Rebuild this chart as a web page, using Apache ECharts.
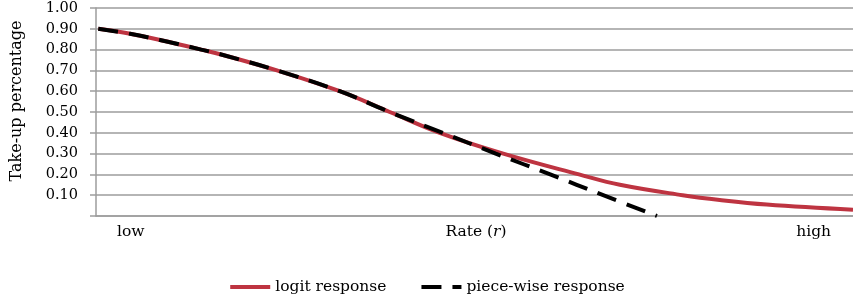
<!DOCTYPE html>
<html>
<head>
<meta charset="utf-8">
<script src="https://cdn.jsdelivr.net/npm/echarts@6/dist/echarts.min.js"></script>
<style>
  html, body { margin: 0; padding: 0; background: #fff; }
  #chart { width: 853px; height: 303px; }
</style>
</head>
<body>
<div id="chart"></div>
<script>
// rate runs 0 (low) .. 100 (high)
var logitRate = [0.3, 4.5, 8.6, 13.9, 16.9, 23.9, 32.2, 38.8, 45.4, 53.8, 63.8, 69.2, 77.5, 82.4, 88.6, 100]
var logitTake = [0.90, 0.876, 0.845, 0.80, 0.773, 0.70, 0.60, 0.50, 0.40, 0.30, 0.20, 0.15, 0.10, 0.077, 0.055, 0.03]

var pieceRate = [0.3, 4.5, 8.6, 13.9, 16.9, 23.9, 32.2, 38.8, 45.8, 52.8, 60.0, 67.0, 74.1]
var pieceTake = [0.90, 0.876, 0.845, 0.80, 0.773, 0.70, 0.60, 0.50, 0.40, 0.30, 0.20, 0.10, 0.0]

var xLabels = ['low', 'Rate (r)', 'high']
var xLabelAt = [4.6, 50.2, 94.8]

var seriesNames = ['logit response', 'piece-wise response']

function pairs(xs, ys) {
  return xs.map(function (x, i) { return [x, ys[i]] })
}

var font = 'DejaVu Serif'
var gray = '#9d9d9d'

var chart = echarts.init(document.getElementById('chart'))
chart.setOption({
  animation: false,
  textStyle: { fontFamily: font },
  grid: { left: 96, right: 0, top: 8, bottom: 87, containLabel: false },
  legend: {
    top: 274,
    left: 'center',
    itemWidth: 40,
    itemHeight: 12,
    itemGap: 33,
    itemStyle: { opacity: 0 },
    lineStyle: { width: 4 },
    textStyle: { fontFamily: font, fontSize: 15.5, color: '#000' },
    data: seriesNames
  },
  xAxis: {
    type: 'value',
    min: 0,
    max: 100,
    axisLine: { show: true, lineStyle: { color: gray, width: 1.5 } },
    axisTick: { show: false },
    splitLine: { show: false },
    axisLabel: {
      customValues: xLabelAt,
      margin: 8,
      fontFamily: font,
      fontSize: 15.5,
      color: '#000',
      formatter: function (v) {
        var i = xLabelAt.indexOf(v)
        if (i === 1) return '{n|Rate (}{i|r}{n|)}'
        return i >= 0 ? xLabels[i] : ''
      },
      rich: {
        n: { fontFamily: font, fontSize: 15.5, color: '#000' },
        i: { fontFamily: font, fontSize: 15.5, color: '#000', fontStyle: 'italic' }
      }
    }
  },
  yAxis: {
    type: 'value',
    min: 0,
    max: 1,
    interval: 0.1,
    name: 'Take-up percentage',
    nameLocation: 'middle',
    nameGap: 71,
    nameTextStyle: { fontFamily: font, fontSize: 16, color: '#000', padding: [0, 0, 0, 22] },
    axisLine: { show: true, lineStyle: { color: gray, width: 1.5 } },
    axisTick: { show: true, length: 6, lineStyle: { color: gray, width: 1.5 } },
    splitLine: { show: true, lineStyle: { color: gray, width: 1.5 } },
    axisLabel: {
      margin: 18,
      fontFamily: font,
      fontSize: 14.5,
      color: '#000',
      formatter: function (v) { return v === 0 ? '' : v.toFixed(2) }
    }
  },
  series: [
    {
      name: seriesNames[0],
      type: 'line',
      data: pairs(logitRate, logitTake),
      smooth: 0.4,
      symbol: 'none',
      lineStyle: { color: '#be3441', width: 4 },
      itemStyle: { color: '#be3441' }
    },
    {
      name: seriesNames[1],
      type: 'line',
      data: pairs(pieceRate, pieceTake),
      smooth: 0.4,
      symbol: 'none',
      lineStyle: { color: '#000', width: 4, type: [20, 11] },
      itemStyle: { color: '#000' }
    }
  ]
})
</script>
</body>
</html>
